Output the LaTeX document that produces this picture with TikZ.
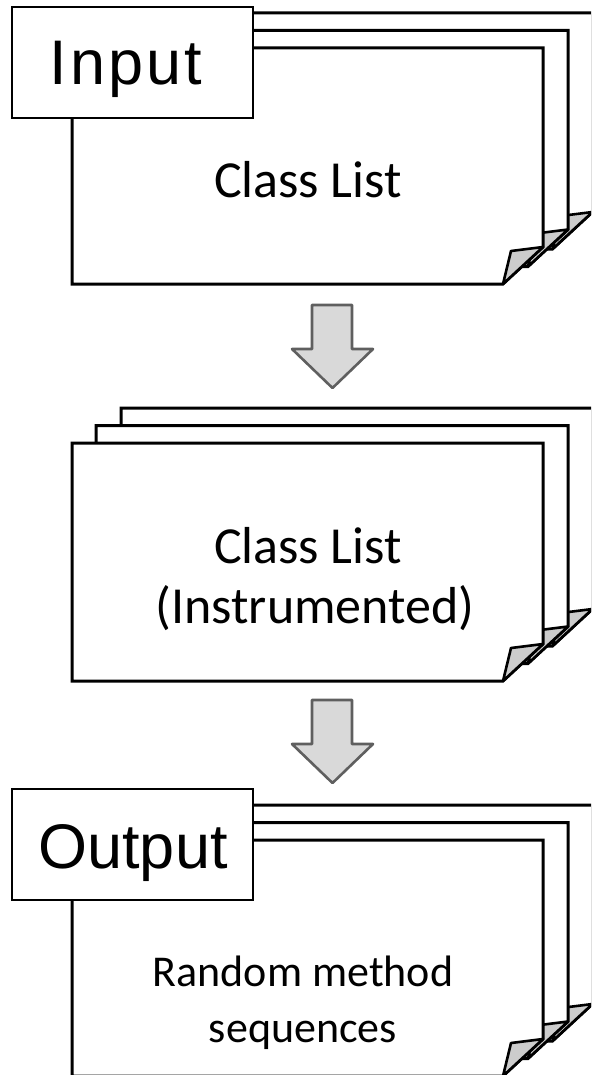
\documentclass[tikz,border=0pt]{standalone}
\usepackage{fontspec}
\setmainfont{Carlito}
\newfontfamily\labelfont{Liberation Sans}
\definecolor{flapgray}{HTML}{CCCCCC}
\definecolor{arrowfill}{HTML}{D9D9D9}
\definecolor{arrowline}{HTML}{5F5F5F}
\newcommand\docpage[4]{%
  \filldraw[pageline] (#1,#2) -- (#3,#2) -- (#3,#4-37) -- (#3-40,#4) -- (#1,#4) -- cycle;
  \filldraw[flapshape] (#3,#4-37) -- (#3-32,#4-33) -- (#3-40,#4) -- cycle;}
\newcommand\docstack[2]{%
  \docpage{121}{#1-35}{592.5}{#2-35}%
  \docpage{96}{#1-17.5}{568}{#2-17.5}%
  \docpage{72}{#1}{543}{#2}}
\newcommand\blockarrow[1]{%
  \filldraw[blockarrowstyle] (312,#1) -- (352,#1) -- (352,#1+44) -- (373,#1+44)
    -- (332.5,#1+83) -- (292,#1+44) -- (312,#1+44) -- cycle;}
\begin{document}
\begin{tikzpicture}[x=1pt,y=-1pt,
  pageline/.style={draw=black,line width=3pt,fill=white,line join=miter},
  flapshape/.style={draw=black,line width=2.6pt,fill=flapgray,line join=round},
  blockarrowstyle/.style={draw=arrowline,fill=arrowfill,line width=2.6pt,line join=round},
  tagbox/.style={draw=black,line width=2pt,fill=white,minimum width=241pt,minimum height=111pt,inner sep=0pt},
  tagtext/.style={anchor=base,inner sep=0pt,font=\labelfont\fontsize{63}{63}\selectfont},
  bodytext/.style={anchor=base,inner sep=0pt,font=\fontsize{#1}{#1}\selectfont},
  bodytext/.default=52]
\useasboundingbox (0,0) rectangle (591,1075);
\clip (0,0) rectangle (591,1075);
% stack 1
\docstack{48}{284}
\node[tagbox] (input) at (132.5,62.5) {};
\node[tagtext] (inputtext) at (126,85) {\addfontfeature{LetterSpace=5}Input};
\node[bodytext] (list1) at (308,198) {Class List};
\blockarrow{305}
% stack 2
\docstack{443}{681}
\node[bodytext] (list2) at (308,563) {Class List};
\node[bodytext] (instr) at (315,623) {(Instrumented)};
\blockarrow{700}
% stack 3
\docstack{840}{1076}
\node[tagbox] (output) at (132.5,844.5) {};
\node[tagtext] (outputtext) at (133,868) {Output};
\node[bodytext=44] (rand) at (303,986) {Random method};
\node[bodytext=44] (seq) at (303,1042) {sequences};
\end{tikzpicture}
\end{document}
